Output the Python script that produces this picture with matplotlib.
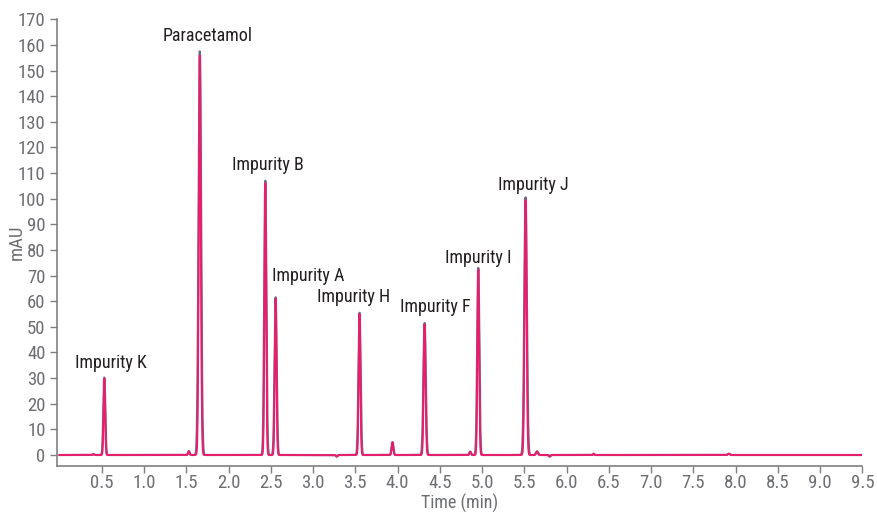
import numpy as np
import matplotlib
matplotlib.use("Agg")
import matplotlib.pyplot as plt

plt.rcParams['font.family'] = ['Roboto Condensed', 'Liberation Sans Narrow', 'DejaVu Sans']
plt.rcParams['font.stretch'] = 'condensed'

# 峰数据：保留时间 (min)、峰高 (mAU)、峰宽 sigma (min)
peak_times = [0.40, 0.53, 1.53, 1.66, 2.435, 2.557, 3.28, 3.55, 3.94, 4.32,
              4.86, 4.955, 5.515, 5.65, 5.80, 6.32, 7.92]
peak_heights = [0.3, 30.2, 1.5, 157.5, 107.0, 61.5, -0.6, 55.5, 5.0, 51.5,
                1.3, 73.0, 100.5, 1.4, -0.6, 0.5, 0.5]
peak_widths = [0.008, 0.009, 0.008, 0.012, 0.010, 0.010, 0.008, 0.010, 0.009, 0.011,
               0.008, 0.010, 0.012, 0.010, 0.008, 0.006, 0.010]

# 标注
labels = ["Impurity K", "Paracetamol", "Impurity B", "Impurity A", "Impurity H",
          "Impurity F", "Impurity I", "Impurity J"]
label_x = [0.61, 1.75, 2.47, 2.94, 3.48, 4.45, 4.96, 5.61]
label_y = [35.9, 163.4, 113.0, 70.0, 61.6, 57.7, 77.0, 105.3]

x_ticks = [0.5, 1.0, 1.5, 2.0, 2.5, 3.0, 3.5, 4.0, 4.5, 5.0, 5.5, 6.0, 6.5, 7.0,
           7.5, 8.0, 8.5, 9.0, 9.5]
y_ticks = list(range(0, 171, 10))


def trace(t, scale_w=1.0, scale_h=1.0):
    y = np.zeros_like(t)
    for t0, h, w in zip(peak_times, peak_heights, peak_widths):
        y += h * scale_h * np.exp(-0.5 * ((t - t0) / (w * scale_w)) ** 2)
    return y


t = np.linspace(0.0, 9.5, 20000)
grey = trace(t, 1.25, 1.0)
pink = trace(t, 1.0, 0.99)

fig = plt.figure(figsize=(8.77, 5.12), dpi=100)
ax = fig.add_axes([0.0647, 0.0898, 0.9186, 0.8725])

ax.plot(t, grey, color="#6f6a8c", lw=1.6)
ax.plot(t, pink, color="#ec1c6c", lw=1.4)

for txt, lx, ly in zip(labels, label_x, label_y):
    ax.text(lx, ly, txt, ha="center", va="center", fontsize=13, color="#231f20",
            family=["Roboto Condensed", "DejaVu Sans"], fontstretch="normal")

ax.set_xlim(-0.033, 9.5)
ax.set_ylim(-4.3, 170)
ax.set_xticks(x_ticks)
ax.set_xticklabels(["%.1f" % v for v in x_ticks])
ax.set_yticks(y_ticks)

for s in ["top", "right"]:
    ax.spines[s].set_visible(False)
for s in ["left", "bottom"]:
    ax.spines[s].set_color("#808080")
    ax.spines[s].set_linewidth(1.2)
ax.tick_params(colors="#808080", labelcolor="#6d6e71", labelsize=13.5, length=5, width=1, pad=3)
ax.tick_params(axis="x", pad=1)

ax.set_xlabel("Time (min)", fontsize=13, color="#6d6e71")
ax.set_ylabel("mAU", fontsize=13.5, color="#6d6e71")
ax.xaxis.set_label_coords(0.50, -0.062)
ax.yaxis.set_label_coords(-0.039, 0.5)

fig.savefig("out.png", dpi=100)
